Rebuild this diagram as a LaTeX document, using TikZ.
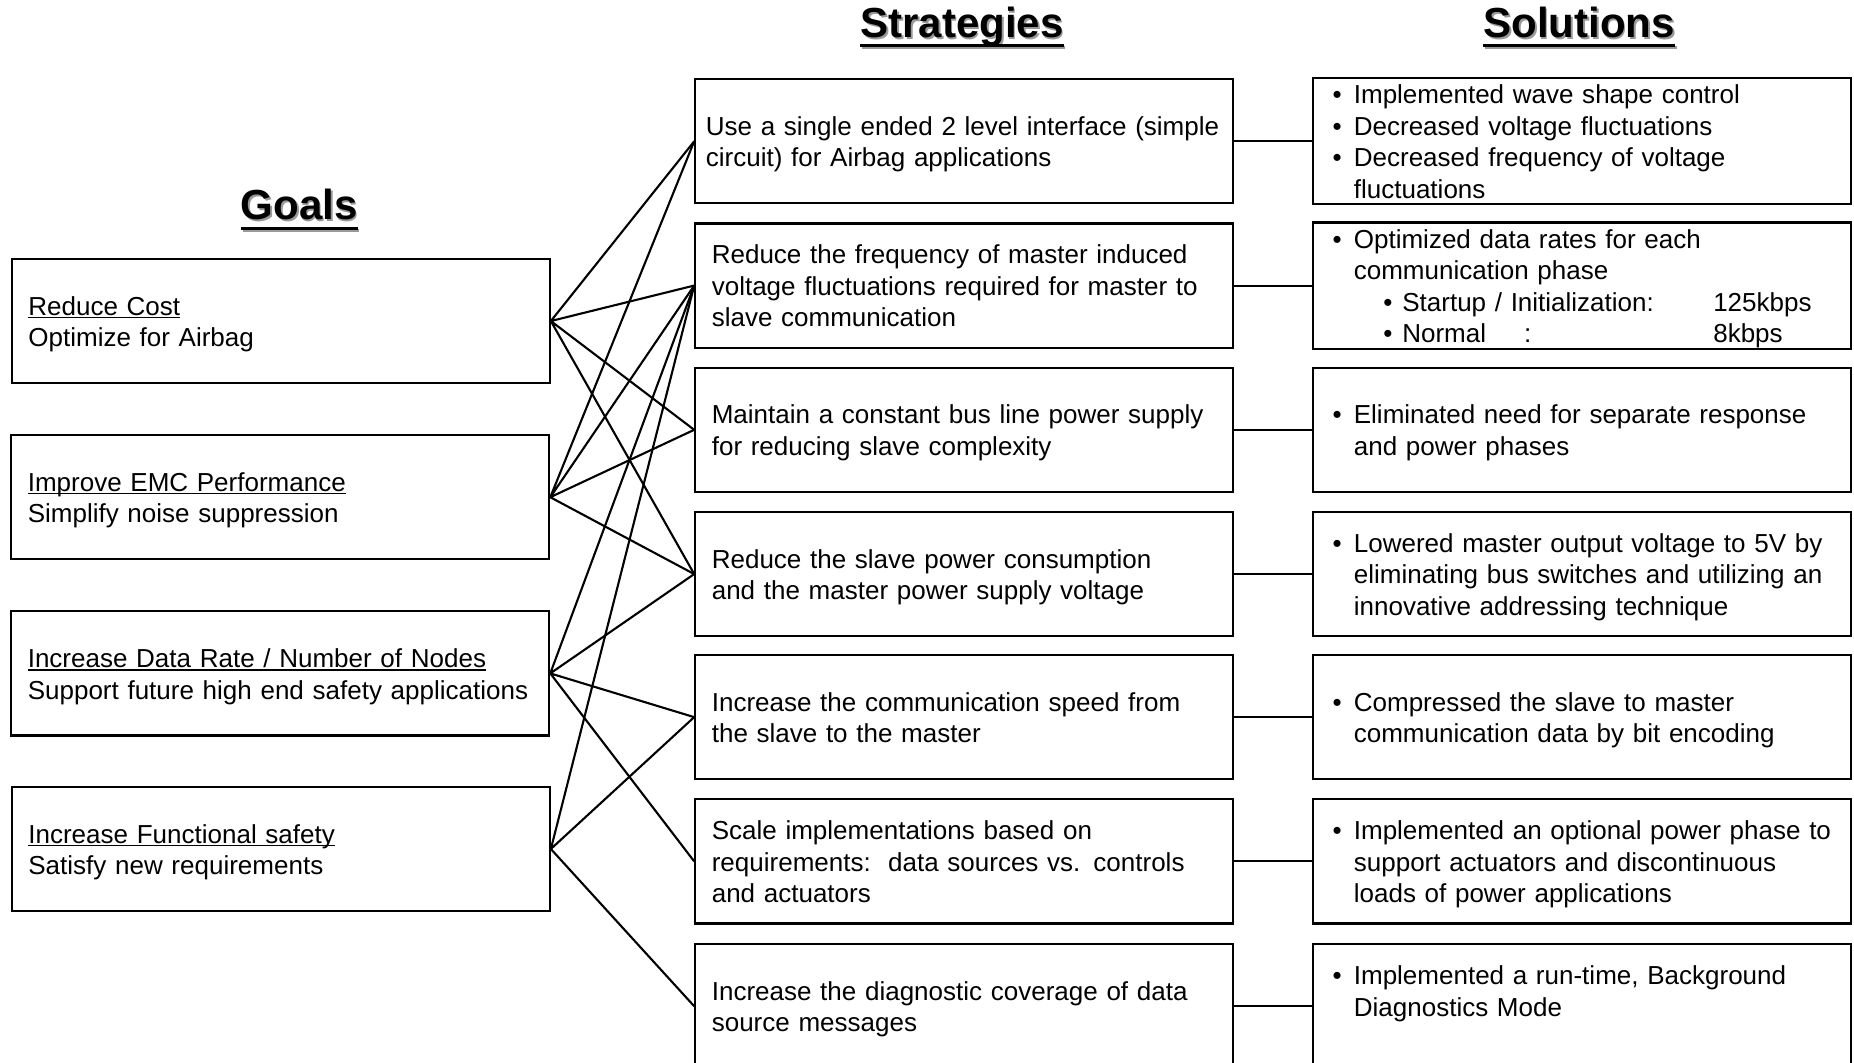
\documentclass[tikz,border=0pt]{standalone}
\usepackage{fontspec}
\setmainfont{Liberation Sans}
\usepackage{array}

\newcommand{\undl}[1]{\setbox0\hbox{#1}\rlap{\rule[-1.2pt]{\wd0}{0.5pt}}\box0}
\newcommand{\ttlul}[1]{\setbox0\hbox{#1}\rlap{\rule[-3.8pt]{\wd0}{1.1pt}}\box0}
\newcommand{\subitm}[2]{\hspace*{11.25pt}\makebox[7.2pt][l]{\textbullet}\makebox[118.35pt][l]{#1}#2}
\newcommand{\boxtxt}[1]{\raisebox{-1.35pt}[\height][\depth]{\begin{tabular}{@{}l@{}}#1\end{tabular}}}
\newcommand{\soltxt}[1]{\raisebox{-1.35pt}[\height][\depth]{\begin{tabular}{@{}p{8.1pt}@{}l@{}}#1\end{tabular}}}

\begin{document}
\begin{tikzpicture}[x=0.45pt, y=-0.45pt,
  box/.style={draw, line width=0.8pt, minimum width=204.75pt, minimum height=47.25pt,
    font=\fontsize{9.9}{12}\selectfont},
  goalbox/.style={box, inner xsep=6.3pt, text width=192.15pt, align=left},
  stratbox/.style={box, inner xsep=6.3pt, text width=192.15pt, align=left},
  solbox/.style={box, inner xsep=7.2pt, inner ysep=0pt, text width=189.9pt, align=left},
  title/.style={anchor=base, font=\fontsize{16}{19}\selectfont\bfseries},
  link/.style={line width=0.8pt}]
  \clip (0,0) rectangle (1568,899);
  \fill[white] (0,0) rectangle (1568,899);

  \node[title, text=black!40] (goalsh) at (254.5,187.5) {\ttlul{Goals}};
  \node[title] (goaltl) at (253,186) {\ttlul{Goals}};
  \node[title, text=black!40] (stratsh) at (815,33.1) {\ttlul{Strategies}};
  \node[title] (strattl) at (813.5,31.6) {\ttlul{Strategies}};
  \node[title, text=black!40] (solsh) at (1337,33.1) {\ttlul{Solutions}};
  \node[title] (soltl) at (1335.5,31.6) {\ttlul{Solutions}};

  \node[goalbox] (g1) at (237.5,271.5) {\boxtxt{\undl{Reduce Cost}\\Optimize for Airbag}};
  \node[goalbox] (g2) at (237,420.5) {\boxtxt{\undl{Improve EMC Performance}\\Simplify noise suppression}};
  \node[goalbox] (g3) at (237,569.5) {\boxtxt{\undl{Increase Data Rate / Number of Nodes}\\Support future high end safety applications}};
  \node[goalbox] (g4) at (237.5,718) {\boxtxt{\undl{Increase Functional safety}\\Satisfy new requirements}};

  \node[stratbox, inner xsep=4.05pt, text width=196.65pt] (s1) at (815.5,119.5)
    {\boxtxt{Use a single ended 2 level interface (simple\\circuit) for Airbag applications}};
  \node[stratbox] (s2) at (815.5,241.5)
    {\boxtxt{Reduce the frequency of master induced\\voltage fluctuations required for master to\\slave communication}};
  \node[stratbox] (s3) at (815.5,363.5)
    {\boxtxt{Maintain a constant bus line power supply\\for reducing slave complexity}};
  \node[stratbox] (s4) at (815.5,485.5)
    {\boxtxt{Reduce the slave power consumption\\and the master power supply voltage}};
  \node[stratbox] (s5) at (815.5,606.5)
    {\boxtxt{Increase the communication speed from\\the slave to the master}};
  \node[stratbox] (s6) at (815.5,728.5)
    {\boxtxt{Scale implementations based on\\requirements:\ \ data sources vs. controls\\and actuators}};
  \node[stratbox] (s7) at (815.5,851)
    {\boxtxt{Increase the diagnostic coverage of data\\source messages}};

  \node[solbox] (o1) at (1338,119.5) {\soltxt{
    \textbullet & Implemented wave shape control\\
    \textbullet & Decreased voltage fluctuations\\
    \textbullet & Decreased frequency of voltage\\
     & fluctuations}};
  \node[solbox] (o2) at (1338,241.5) {\soltxt{
    \textbullet & Optimized data rates for each\\
     & communication phase\\
     & \subitm{Startup / Initialization:}{125kbps}\\
     & \subitm{\makebox[46.35pt][l]{Normal}:}{8kbps}}};
  \node[solbox] (o3) at (1338,363.5) {\soltxt{
    \textbullet & Eliminated need for separate response\\
     & and power phases}};
  \node[solbox] (o4) at (1338,485.5) {\soltxt{
    \textbullet & Lowered master output voltage to 5V by\\
     & eliminating bus switches and utilizing an\\
     & innovative addressing technique}};
  \node[solbox] (o5) at (1338,606.5) {\soltxt{
    \textbullet & Compressed the slave to master\\
     & communication data by bit encoding}};
  \node[solbox] (o6) at (1338,728.5) {\soltxt{
    \textbullet & Implemented an optional power phase to\\
     & support actuators and discontinuous\\
     & loads of power applications}};
  \node[solbox] (o7) at (1338,851) {\soltxt{
    \textbullet & Implemented a run-time, Background\\
     & Diagnostics Mode\\
     & }};

  \draw[link] (s1) -- (o1);
  \draw[link] (s2) -- (o2);
  \draw[link] (s3) -- (o3);
  \draw[link] (s4) -- (o4);
  \draw[link] (s5) -- (o5);
  \draw[link] (s6) -- (o6);
  \draw[link] (s7) -- (o7);

  \draw[link] (g1.east) -- (s1.west) (g1.east) -- (s2.west) (g1.east) -- (s3.west) (g1.east) -- (s4.west);
  \draw[link] (g2.east) -- (s1.west) (g2.east) -- (s2.west) (g2.east) -- (s3.west) (g2.east) -- (s4.west);
  \draw[link] (g3.east) -- (s2.west) (g3.east) -- (s4.west) (g3.east) -- (s5.west) (g3.east) -- (s6.west);
  \draw[link] (g4.east) -- (s2.west) (g4.east) -- (s5.west) (g4.east) -- (s7.west);
\end{tikzpicture}
\end{document}
